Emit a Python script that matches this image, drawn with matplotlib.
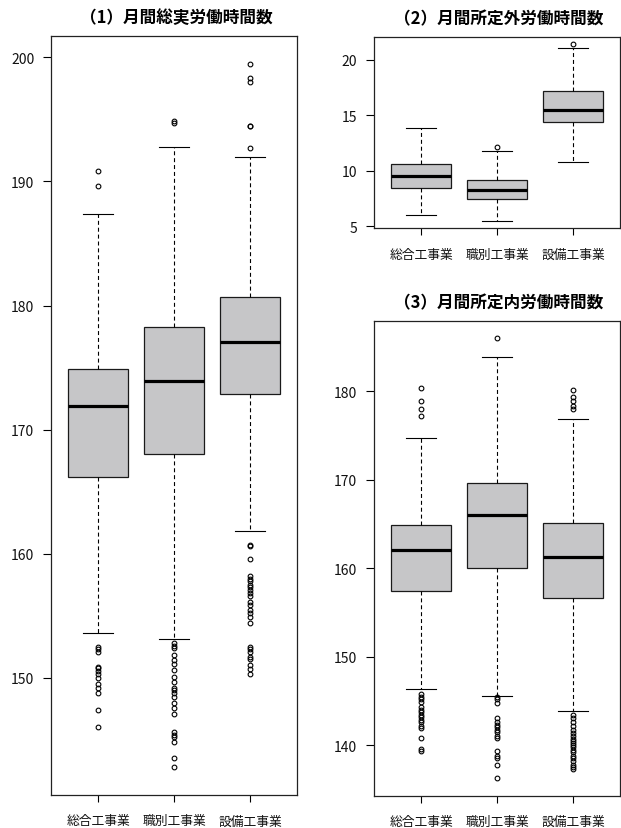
import matplotlib.pyplot as plt
import matplotlib.ticker as ticker
import numpy as np

plt.rcParams['font.family'] = ['Noto Sans CJK JP', 'DejaVu Sans']

# Industry categories (x axis)
categories = ['総合工事業', '職別工事業', '設備工事業']

# Panel titles
titles = [
    '（1）月間総実労働時間数',
    '（2）月間所定外労働時間数',
    '（3）月間所定内労働時間数',
]

# (1) Total monthly working hours: [whislo, q1, med, q3, whishi] per category
total_box = [
    [153.6, 166.2, 171.9, 174.9, 187.4],
    [153.1, 168.0, 173.95, 178.25, 192.8],
    [161.8, 172.9, 177.1, 180.7, 192.0],
]
total_fliers = [
    [190.85, 189.6, 152.5, 152.3, 152.1, 150.9, 150.75, 150.55, 150.3, 149.95,
     149.5, 149.2, 148.8, 147.4, 146.05],
    [194.9, 194.75, 152.77, 152.58, 152.37, 151.83, 151.42, 151.08, 150.62,
     150.08, 149.68, 149.2, 149.0, 148.8, 148.47, 147.93, 147.53, 147.12,
     145.65, 145.43, 145.24, 144.84, 143.55, 142.82],
    [199.46, 198.3, 198.0, 194.5, 194.45, 192.7, 160.7, 160.65, 159.6, 158.2,
     158.0, 157.8, 157.5, 157.3, 157.1, 156.85, 156.6, 156.1, 155.9, 155.5,
     155.2, 154.9, 154.4, 152.5, 152.3, 152.1, 151.7, 151.5, 151.0, 150.7,
     150.3],
]

# (2) Monthly overtime hours
overtime_box = [
    [6.0, 8.47, 9.52, 10.64, 13.8],
    [5.45, 7.42, 8.23, 9.2, 11.78],
    [10.82, 14.34, 15.48, 17.15, 21.08],
]
overtime_fliers = [
    [],
    [12.09],
    [21.42],
]

# (3) Monthly scheduled hours
scheduled_box = [
    [146.37, 157.45, 162.05, 164.92, 174.7],
    [145.58, 160.0, 166.0, 169.63, 183.9],
    [143.8, 156.6, 161.3, 165.15, 176.9],
]
scheduled_fliers = [
    [180.4, 178.87, 177.96, 177.17, 145.77, 145.47, 145.2, 144.9, 144.26,
     144.0, 143.7, 143.4, 143.13, 142.83, 142.57, 142.19, 141.9, 140.8,
     139.55, 139.28],
    [186.0, 145.47, 145.2, 144.75, 143.0, 142.57, 142.3, 142.0, 141.74,
     141.43, 141.06, 140.8, 139.36, 138.8, 138.53, 137.74, 136.26],
    [180.2, 179.4, 178.87, 178.4, 178.0, 143.43, 143.02, 142.57, 142.11,
     141.74, 141.36, 140.98, 140.68, 140.49, 140.23, 140.0, 139.74, 139.47,
     139.17, 138.79, 138.49, 138.15, 137.77, 137.47, 137.28],
]

# Y tick positions for each panel
total_ticks = [150, 160, 170, 180, 190, 200]
overtime_ticks = [5, 10, 15, 20]
scheduled_ticks = [140, 150, 160, 170, 180]


def make_stats(boxes, fliers):
    stats = []
    for (lo, q1, med, q3, hi), fl in zip(boxes, fliers):
        stats.append(dict(whislo=lo, q1=q1, med=med, q3=q3, whishi=hi,
                          fliers=np.array(fl, dtype=float)))
    return stats


def draw_panel(ax, boxes, fliers, yticks, title, fig):
    stats = make_stats(boxes, fliers)
    positions = np.arange(1, len(stats) + 1)

    ax.bxp(stats, positions=positions, widths=0.8, capwidths=0.4,
           patch_artist=True,
           boxprops=dict(facecolor='#c6c6c8', edgecolor='#1a1a1a', linewidth=0.9),
           medianprops=dict(color='black', linewidth=2.3, solid_capstyle='butt'),
           whiskerprops=dict(color='black', linewidth=0.8, linestyle=(0, (3.6, 2.6))),
           capprops=dict(color='black', linewidth=0.8),
           flierprops=dict(marker='o', markersize=3.4, markerfacecolor='none',
                           markeredgecolor='black', markeredgewidth=0.8))

    # R-style axis limits: 4% padding around data range
    vals = np.concatenate([np.ravel(boxes)] + [np.array(f, dtype=float) for f in fliers])
    lo, hi = vals.min(), vals.max()
    pad = (hi - lo) * 0.04
    ax.set_ylim(lo - pad, hi + pad)
    n = len(stats)
    ax.set_xlim(0.5 - 0.04 * n, n + 0.5 + 0.04 * n)

    ax.yaxis.set_major_locator(ticker.FixedLocator(yticks))
    ax.set_xticks(positions)
    ax.set_xticklabels(categories, fontsize=9.2, color='#111111')
    ax.tick_params(axis='y', labelsize=10, length=6, width=0.8, direction='out',
                   pad=6, labelcolor='#111111')
    ax.tick_params(axis='x', length=5, width=0.8, direction='out', pad=9)

    for spine in ax.spines.values():
        spine.set_linewidth(0.9)
        spine.set_color('#222222')

    # Bold title centred above the plot region
    bbox = ax.get_position()
    fig.text((bbox.x0 + bbox.x1) / 2 + 2 / 621, bbox.y1 + 18.5 / 829, title,
             ha='center', va='center', fontsize=12, fontweight='bold')


def main():
    fig = plt.figure(figsize=(6.21, 8.29), dpi=100)

    ax1 = fig.add_axes([0.0821, 0.0398, 0.3961, 0.9156])
    ax2 = fig.add_axes([0.6023, 0.7234, 0.3961, 0.2311])
    ax3 = fig.add_axes([0.6023, 0.0390, 0.3961, 0.5729])

    draw_panel(ax1, total_box, total_fliers, total_ticks, titles[0], fig)
    draw_panel(ax2, overtime_box, overtime_fliers, overtime_ticks, titles[1], fig)
    draw_panel(ax3, scheduled_box, scheduled_fliers, scheduled_ticks, titles[2], fig)

    fig.savefig('out.png', dpi=100, facecolor='white')
    plt.close(fig)


if __name__ == '__main__':
    main()
